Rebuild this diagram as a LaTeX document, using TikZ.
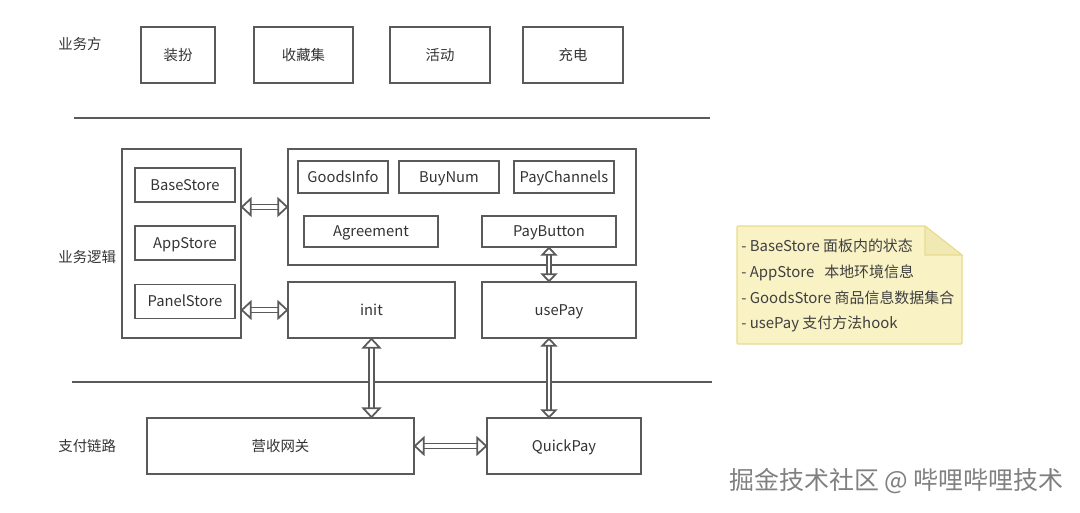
\documentclass[tikz,border=0pt]{standalone}
\usepackage{fontspec}
\setmainfont{Noto Sans CJK SC}
\usepackage{tikz}
\usetikzlibrary{positioning, arrows.meta, calc}

\definecolor{boxgray}{HTML}{5A5A5A}
\definecolor{notefill}{HTML}{F8F2C4}
\definecolor{notedraw}{HTML}{E8DB8E}
\definecolor{notefold}{HTML}{F1E9B4}

\begin{document}
\begin{tikzpicture}[
    x=0.02cm, y=-0.02cm,
    bigbox/.style={draw=boxgray, line width=1.1pt, inner sep=0pt, text height=7pt, text depth=1pt, font=\fontsize{8.2pt}{10pt}\selectfont, text=black!80},
    enbox/.style={bigbox, font=\fontsize{8.4pt}{10pt}\selectfont},
    sidelabel/.style={anchor=west, inner sep=0pt, font=\fontsize{8.2pt}{10pt}\selectfont, text=black!80},
    rule/.style={draw=boxgray, line width=1.1pt},
    dblarrow/.style={{Triangle[open, fill=white, length=2.2mm, width=4mm, line width=1pt]}-{Triangle[open, fill=white, length=2.2mm, width=4mm, line width=1pt]}, draw=boxgray, double=white, double distance=1.9pt, line width=1pt, shorten >=-0.8pt, shorten <=-0.8pt},
    slimarrow/.style={{Triangle[open, fill=white, length=1.8mm, width=3.4mm, line width=1pt]}-{Triangle[open, fill=white, length=1.8mm, width=3.4mm, line width=1pt]}, draw=boxgray, double=white, double distance=1.5pt, line width=1pt, shorten >=-0.8pt, shorten <=-0.8pt}]

    \useasboundingbox (0, 0) rectangle (1080, 512);

    % Business row
    \node[sidelabel] (bizLabel) at (58, 44) {业务方};
    \node[bigbox, minimum width=74*0.02cm, minimum height=56*0.02cm] (dress) at (178, 55) {装扮};
    \node[bigbox, minimum width=99*0.02cm, minimum height=56*0.02cm] (collect) at (303.5, 55) {收藏集};
    \node[bigbox, minimum width=100*0.02cm, minimum height=56*0.02cm] (activity) at (440, 55) {活动};
    \node[bigbox, minimum width=100*0.02cm, minimum height=56*0.02cm] (charge) at (573, 55) {充电};

    \coordinate (ruleOneL) at (74, 118);
    \coordinate (ruleOneR) at (710, 118);
    \draw[rule] (ruleOneL) -- (ruleOneR);

    % Logic row
    \node[sidelabel] (logicLabel) at (58, 257) {业务逻辑};

    \node[bigbox, minimum width=119*0.02cm, minimum height=189*0.02cm] (storeBox) at (181.5, 243.5) {};
    \node[enbox, minimum width=100*0.02cm, minimum height=34*0.02cm] (baseStore) at (185, 185) {BaseStore};
    \node[enbox, minimum width=100*0.02cm, minimum height=34*0.02cm] (appStore) at (185, 243) {AppStore};
    \node[enbox, minimum width=100*0.02cm, minimum height=34*0.02cm] (panelStore) at (185, 301.5) {PanelStore};

    \node[bigbox, minimum width=348*0.02cm, minimum height=116*0.02cm] (goodsBox) at (462, 207) {};
    \node[enbox, minimum width=90*0.02cm, minimum height=32*0.02cm] (goodsInfo) at (343, 177) {GoodsInfo};
    \node[enbox, minimum width=100*0.02cm, minimum height=32*0.02cm] (buyNum) at (449, 177) {BuyNum};
    \node[enbox, minimum width=100*0.02cm, minimum height=32*0.02cm] (payChannels) at (564, 177) {PayChannels};
    \node[enbox, minimum width=134*0.02cm, minimum height=31*0.02cm] (agreement) at (371, 231.5) {Agreement};
    \node[enbox, minimum width=134*0.02cm, minimum height=31*0.02cm] (payButton) at (549, 231.5) {PayButton};

    \node[enbox, minimum width=167*0.02cm, minimum height=56*0.02cm] (init) at (371.5, 310) {init};
    \node[enbox, minimum width=154*0.02cm, minimum height=56*0.02cm] (usePay) at (559, 310) {usePay};

    \coordinate (ruleTwoL) at (72, 382);
    \coordinate (ruleTwoR) at (712, 382);
    \draw[rule] (ruleTwoL) -- (ruleTwoR);

    % Payment row
    \node[sidelabel] (payLabel) at (58, 446) {支付链路};
    \node[bigbox, minimum width=267*0.02cm, minimum height=56*0.02cm] (gateway) at (280.5, 446) {营收网关};
    \node[enbox, minimum width=154*0.02cm, minimum height=56*0.02cm] (quickPay) at (564, 446) {QuickPay};

    % Links
    \draw[dblarrow] (storeBox.east |- goodsBox.west) -- (goodsBox.west);
    \draw[dblarrow] (storeBox.east |- init.west) -- (init.west);
    \draw[slimarrow] (payButton.south) -- (payButton.south |- usePay.north);
    \draw[dblarrow] (init.south) -- (init.south |- gateway.north);
    \draw[slimarrow] (payButton.south |- usePay.south) -- (payButton.south |- quickPay.north);
    \draw[dblarrow] (gateway.east) -- (quickPay.west);

    % Note
    \draw[draw=notedraw, fill=notefill, line width=0.6pt, rounded corners=0.5pt]
        (737, 226) -- (925, 226) -- (962, 255) -- (962, 344) -- (737, 344) -- cycle;
    \draw[draw=notedraw, fill=notefold, line width=0.6pt]
        (925, 226) -- (962, 255) -- (925, 255) -- cycle;
    \node[anchor=north west, inner sep=0pt, align=left, text=black!75, font=\fontsize{8.5pt}{14.55pt}\selectfont] (noteText) at (741, 239)
        {- BaseStore 面板内的状态\\- AppStore \ \ 本地环境信息\\- GoodsStore 商品信息数据集合\\- usePay 支付方法hook};

    % Watermark
    \node[anchor=west, inner sep=0pt, text=black!50, font=\fontsize{14.2pt}{16pt}\selectfont] (mark) at (729, 481) {掘金技术社区 @ 哔哩哔哩技术};

\end{tikzpicture}
\end{document}
